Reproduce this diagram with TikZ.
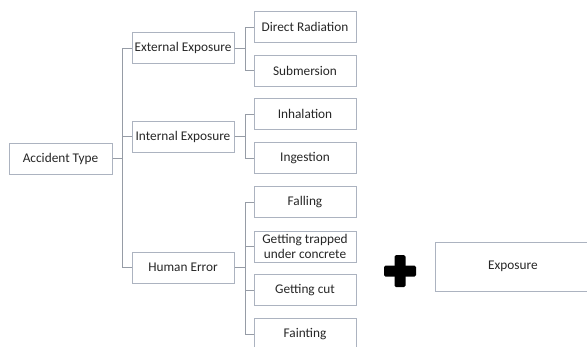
\documentclass[tikz,border=0pt]{standalone}
\usepackage{fontspec}
\setmainfont{Carlito}
\definecolor{boxline}{RGB}{172,179,192}
\definecolor{linkline}{RGB}{150,156,166}
\definecolor{txt}{RGB}{38,38,38}
\tikzset{
    box/.style={draw=boxline, line width=1pt, minimum width=102pt, minimum height=31pt,
        inner sep=1pt, align=center, text=txt, font=\fontsize{13.3}{14.2}\selectfont},
    link/.style={draw=linkline, line width=0.9pt}
}
\begin{document}
\begin{tikzpicture}[x=1pt, y=-1pt]
        \useasboundingbox (0, 0) rectangle (587, 346);
        \node[box, minimum width=103pt] (accident) at (60.5, 158.5) {Accident Type};
        \node[box] (external) at (183, 48) {External Exposure};
        \node[box] (internal) at (183, 136.5) {Internal Exposure};
        \node[box] (human) at (183, 267.5) {Human Error};

        \node[box] (direct) at (305, 27) {Direct Radiation};
        \node[box] (submersion) at (305, 70.5) {Submersion};
        \node[box] (inhalation) at (305, 114) {Inhalation};
        \node[box] (ingestion) at (305, 158) {Ingestion};
        \node[box] (falling) at (305, 202) {Falling};
        \node[box] (trapped) at (305, 246.5) {Getting trapped\\under concrete};
        \node[box] (cut) at (305, 290) {Getting cut};
        \node[box] (fainting) at (305, 334) {Fainting};

        \node[box, minimum width=156pt, minimum height=49pt] (exposure) at (513, 266.5) {Exposure};

        \foreach \child in {external, internal, human} {
            \draw[link] (accident.east) -- ++(10, 0) |- (\child.west);
        }
        \foreach \child in {direct, submersion} {
            \draw[link] (external.east) -- ++(11, 0) |- (\child.west);
        }
        \foreach \child in {inhalation, ingestion} {
            \draw[link] (internal.east) -- ++(11, 0) |- (\child.west);
        }
        \foreach \child in {falling, trapped, cut, fainting} {
            \draw[link] (human.east) -- ++(11, 0) |- (\child.west);
        }

        % plus sign
        \fill[rounded corners=1.5pt] (394.5, 255) rectangle (405.5, 287);
        \fill[rounded corners=1.5pt] (384, 265.5) rectangle (416, 276.5);
    \end{tikzpicture}
\end{document}
